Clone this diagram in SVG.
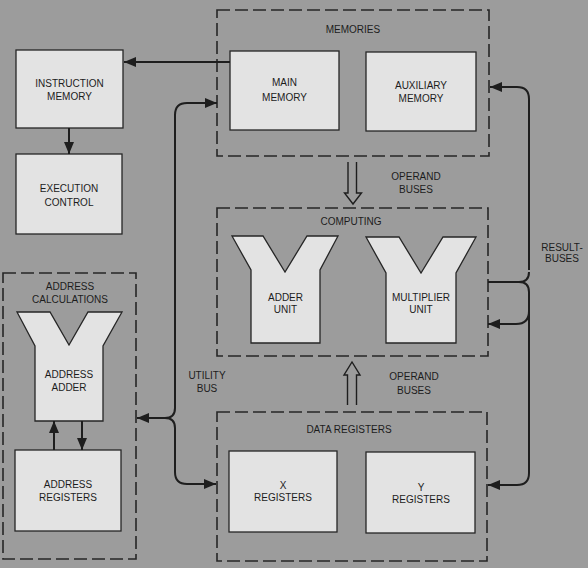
<svg xmlns="http://www.w3.org/2000/svg" width="588" height="568" viewBox="0 0 588 568">
<defs>
<marker id="ah" viewBox="0 0 12 10" refX="12" refY="5" markerWidth="12" markerHeight="10" markerUnits="userSpaceOnUse" orient="auto">
<path d="M0,0 L12,5 L0,10 z" fill="#1e1e1e"/>
</marker>
<style>
.bg{fill:#9c9c9c}
.grp{fill:none;stroke:#262626;stroke-width:1.6;stroke-dasharray:13 5}
.box{fill:#e3e3e3;stroke:#262626;stroke-width:1.3}
.t{font-family:"Liberation Sans",Arial,sans-serif;font-size:10px;fill:#1c1c1c;text-anchor:middle}
.c{fill:none;stroke:#1e1e1e;stroke-width:2}
.ca{fill:none;stroke:#1e1e1e;stroke-width:2;marker-end:url(#ah)}
.hol{fill:none;stroke:#1e1e1e;stroke-width:1.4}
</style>
</defs>
<rect class="bg" x="0" y="0" width="588" height="568"/>

<g id="memories">
<rect class="grp" x="217" y="10" width="272" height="146"/>
<text class="t" x="353" y="32.5">MEMORIES</text>
</g>
<g id="main-memory">
<rect class="box" x="230" y="51" width="109" height="79"/>
<text class="t" x="284.5" y="86">MAIN</text>
<text class="t" x="284.5" y="101">MEMORY</text>
</g>
<g id="auxiliary-memory">
<rect class="box" x="366" y="52" width="110" height="79"/>
<text class="t" x="421" y="88.5">AUXILIARY</text>
<text class="t" x="421" y="101.5">MEMORY</text>
</g>
<g id="instruction-memory">
<rect class="box" x="16" y="50" width="107" height="78"/>
<text class="t" x="69.5" y="86.5">INSTRUCTION</text>
<text class="t" x="69.5" y="99.5">MEMORY</text>
</g>
<g id="execution-control">
<rect class="box" x="16" y="154" width="106" height="80"/>
<text class="t" x="69" y="191.5">EXECUTION</text>
<text class="t" x="69" y="205.5">CONTROL</text>
</g>

<g id="computing">
<rect class="grp" x="217" y="208" width="271" height="148"/>
<text class="t" x="351" y="224.5">COMPUTING</text>
</g>
<g id="adder-unit">
<path class="box" d="M232,236 H263 L285,272 L307,236 H338 L320,270 V343 H251 V270 Z"/>
<text class="t" x="285.5" y="300.5">ADDER</text>
<text class="t" x="285.5" y="313">UNIT</text>
</g>
<g id="multiplier-unit">
<path class="box" d="M366,237 H399 L421,273 L443,237 H476 L456,273 V343 H386 V273 Z"/>
<text class="t" x="421" y="300.5">MULTIPLIER</text>
<text class="t" x="421" y="313">UNIT</text>
</g>

<g id="address-calculations">
<rect class="grp" x="3" y="273" width="133" height="286"/>
<text class="t" x="70" y="289.5">ADDRESS</text>
<text class="t" x="70" y="302.5">CALCULATIONS</text>
</g>
<g id="address-adder">
<path class="box" d="M17,312 H50 L69,345 L88,312 H122 L103,346 V421 H35 V346 Z"/>
<text class="t" x="69" y="377.5">ADDRESS</text>
<text class="t" x="69" y="390.5">ADDER</text>
</g>
<g id="address-registers">
<rect class="box" x="15" y="450" width="106" height="81"/>
<text class="t" x="68" y="487.5">ADDRESS</text>
<text class="t" x="68" y="500.5">REGISTERS</text>
</g>

<g id="data-registers">
<rect class="grp" x="217" y="412" width="270" height="149"/>
<text class="t" x="349" y="432.5">DATA REGISTERS</text>
</g>
<g id="x-registers">
<rect class="box" x="229" y="451" width="108" height="81"/>
<text class="t" x="283" y="488.5">X</text>
<text class="t" x="283" y="500.5">REGISTERS</text>
</g>
<g id="y-registers">
<rect class="box" x="366" y="452" width="109" height="81"/>
<text class="t" x="421" y="490.5">Y</text>
<text class="t" x="421" y="502.5">REGISTERS</text>
</g>

<g id="labels">
<text class="t" x="416" y="179.5">OPERAND</text>
<text class="t" x="416" y="192.5">BUSES</text>
<text class="t" x="414" y="379.5">OPERAND</text>
<text class="t" x="414" y="393.5">BUSES</text>
<text class="t" x="562" y="250.5">RESULT-</text>
<text class="t" x="562" y="261.5">BUSES</text>
<text class="t" x="207" y="378.5">UTILITY</text>
<text class="t" x="207" y="391.5">BUS</text>
</g>

<g id="connectors">
<path class="ca" d="M230,62 H124"/>
<path class="ca" d="M69,128 V154"/>
<path class="ca" d="M54,450 V421"/>
<path class="ca" d="M82,421 V450"/>
<!-- utility bus -->
<path class="ca" d="M175,408 V115 Q175,103 187,103 H217"/>
<path class="c" d="M175,408 Q175,418 165,418"/>
<path class="ca" d="M165,418 H137"/>
<path class="ca" d="M165,418 Q175,418 175,428 V472 Q175,484 187,484 H216"/>
<!-- result buses -->
<path class="ca" d="M529,270 V99 Q529,87 517,87 H490"/>
<path class="c" d="M488,282 H519 Q529,282 529,272"/>
<path class="ca" d="M519,282 Q529,282 529,292 V473 Q529,485 517,485 H488"/>
<path class="ca" d="M529,311 Q529,324 516,324 H488"/>
<!-- operand buses -->
<path class="hol" d="M348,162 V193 H344.5 L353,204 L361.5,193 H356.5 V162"/>
<path class="hol" d="M347.5,405 V375 H344 L352,362 L360,375 H356.5 V405"/>
</g>
</svg>
